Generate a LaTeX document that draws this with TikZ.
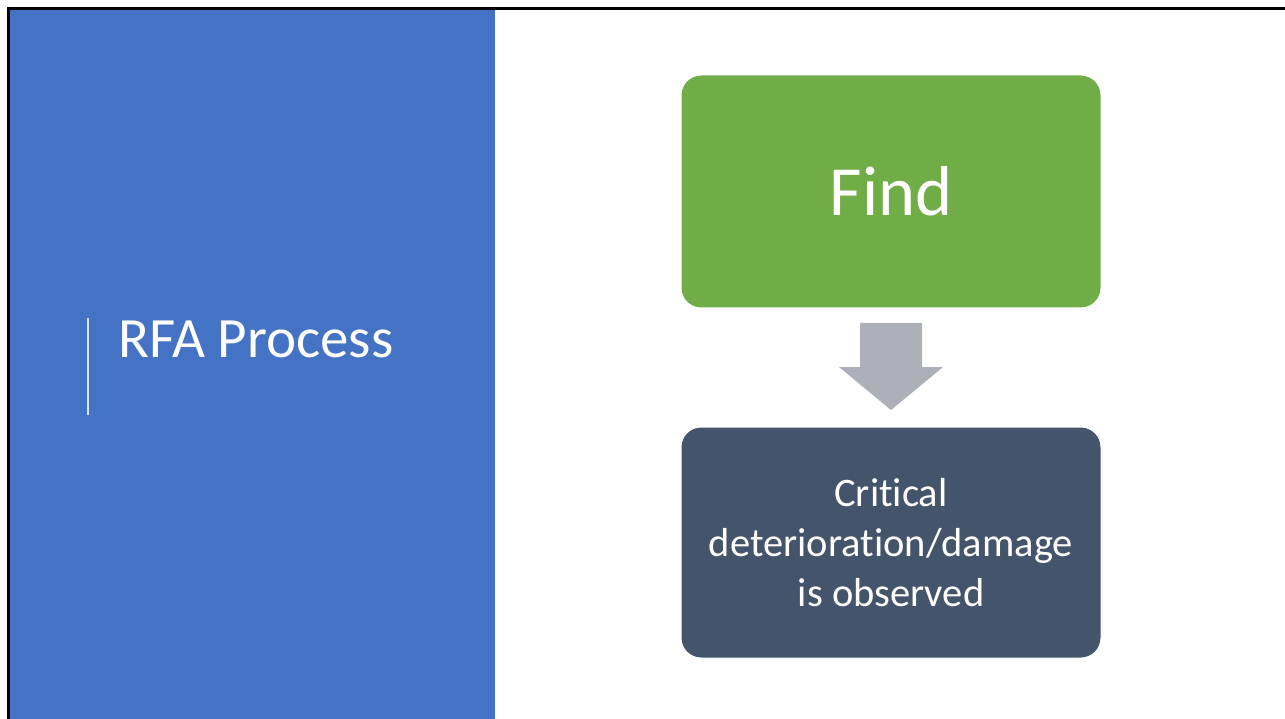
\documentclass[tikz,border=0pt]{standalone}
\usepackage{fontspec}
\setmainfont{Carlito}[RawFeature={-liga;-calt;-clig}]
\definecolor{panelblue}{HTML}{4472C4}
\definecolor{findgreen}{HTML}{70AD47}
\definecolor{slate}{HTML}{44546A}
\definecolor{arrowgray}{HTML}{ADB0B8}
\tikzset{
  stepbox/.style={rounded corners=20pt, draw=white, line width=1pt, minimum width=420pt, text=white, align=center, inner sep=0pt},
}
\begin{document}
\begin{tikzpicture}[x=1pt,y=-1pt]
\useasboundingbox (0,0) rectangle (1285,719);
\fill[white] (0,0) rectangle (1285,719);
% blue panel
\fill[panelblue] (10,9) rectangle (495,719);
% slide border
\draw[black, line width=3pt] (8.5,719) -- (8.5,8.5) -- (1285,8.5);
% title
\draw[white, opacity=0.8, line width=2pt] (88,318) -- (88,415);
\node[anchor=base west, text=white, font=\fontsize{57}{60}\selectfont, inner sep=0pt] (title) at (118,357) {RFA Process};
% boxes
\node[stepbox, fill=findgreen, minimum height=233pt, font=\fontsize{70.5}{80}\selectfont] (find) at (891,191.5) {Find};
\node[stepbox, fill=slate, minimum height=231pt, font=\fontsize{40.5}{50}\selectfont] (obs) at (891,542.5) {Critical\\deterioration/damage\\is observed};
% block arrow
\fill[arrowgray] (860,323) -- (922,323) -- (922,367) -- (943,367) -- (891,410) -- (839,367) -- (860,367) -- cycle;
\end{tikzpicture}
\end{document}
